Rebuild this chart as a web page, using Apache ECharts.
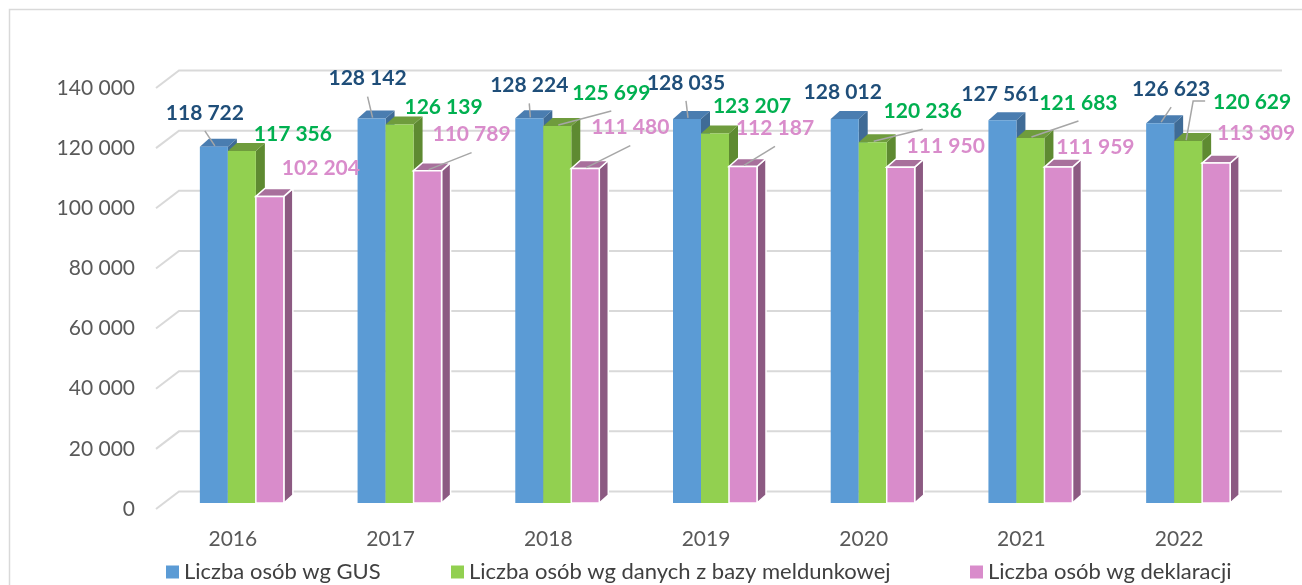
<!DOCTYPE html>
<html>
<head>
<meta charset="utf-8">
<script src="https://cdn.jsdelivr.net/npm/echarts@6/dist/echarts.min.js"></script>
<style>
  html, body { margin: 0; padding: 0; background: #fff; }
  #chart { width: 1302px; height: 585px; }
</style>
</head>
<body>
<div id="chart"></div>
<script>
// dane
const years = ['2016', '2017', '2018', '2019', '2020', '2021', '2022']
const gus = [118722, 128142, 128224, 128035, 128012, 127561, 126623]
const meld = [117356, 126139, 125699, 123207, 120236, 121683, 120629]
const dekl = [102204, 110789, 111480, 112187, 111950, 111959, 113309]
const yTicks = [0, 20000, 40000, 60000, 80000, 100000, 120000, 140000]

// ustawienia etykiet (przesunięcie od środka górnej krawędzi słupka)
const gusDx = [-9, -4, 0, -1, -2, -2, 11]
const gusDy = [-34, -40, -33, -36, -27, -26, -34]
const meldDx = [51, 44, 54, 37, 50, 48, 64]
const meldDy = [-17, -17, -33, -27, -31, -35, -39]
const deklDx = [51, 44, 45, 32, 45, 37, 40]
const deklDy = [-28, -36, -41, -38, -21, -20, -30]
// 0 - brak linii, 1 - prosta linia, 2 - linia łamana
const gusLead = [1, 1, 1, 1, 0, 0, 1]
const meldLead = [0, 0, 1, 0, 1, 1, 2]
const deklLead = [0, 1, 1, 1, 0, 0, 0]

const BAR_W = 28
const DX = 9
const DY = 8
const FONT = 'Lato'

function fmt(v) {
  return String(v).replace(/\B(?=(\d{3})+(?!\d))/g, ' ')
}

function bar3d(name, shift, values, c, labelColor, ldx, ldy, lead, white) {
  return {
    name: name,
    type: 'custom',
    xAxisIndex: 0,
    yAxisIndex: 0,
    itemStyle: { color: c.front },
    data: values.map((v, i) => [i, v]),
    renderItem: function (params, api) {
      const i = api.value(0)
      const top = api.coord([i, api.value(1)])
      const base = api.coord([i, 0])
      const x = top[0] + shift
      const y = top[1]
      const b = base[1]
      const r = x + BAR_W
      const stroke = white ? '#ffffff' : null
      const lw = white ? 1.5 : 0
      const cx = x + BAR_W / 2
      const lx = cx + ldx[i]
      const ly = y + ldy[i]
      const children = [
        { type: 'polygon', shape: { points: [[r, y], [r + DX, y - DY], [r + DX, b - DY], [r, b]] },
          style: { fill: c.side, stroke: stroke, lineWidth: lw } },
        { type: 'polygon', shape: { points: [[x, y], [x + DX, y - DY], [r + DX, y - DY], [r, y]] },
          style: { fill: c.top, stroke: stroke, lineWidth: lw } },
        { type: 'rect', shape: { x: x, y: y, width: BAR_W, height: b - y },
          style: { fill: c.front, stroke: stroke, lineWidth: lw } }
      ]
      if (lead[i] === 1) {
        children.push({ type: 'line', shape: { x1: lx, y1: ly + 18, x2: cx + 1, y2: y - 1 },
          style: { stroke: '#a6a6a6', lineWidth: 1.5 } })
      } else if (lead[i] === 2) {
        children.push({ type: 'polyline', shape: { points: [[lx - 47, ly - 1], [lx - 59, ly - 1], [cx - 2, y - 1]] },
          style: { stroke: '#a6a6a6', lineWidth: 1.5, fill: null } })
      }
      children.push({ type: 'text', z2: 10,
        style: { text: fmt(api.value(1)), x: lx, y: ly, align: 'center', verticalAlign: 'middle',
          font: 'bold 21px ' + FONT, fill: labelColor } })
      return { type: 'group', children: children }
    }
  }
}

const chart = echarts.init(document.getElementById('chart'))

const option = {
  animation: false,
  backgroundColor: '#ffffff',
  graphic: [{
    type: 'rect', left: 7, top: 7, silent: true,
    shape: { width: 1400, height: 700 },
    style: { fill: null, stroke: '#d9d9d9', lineWidth: 1.5 }
  }],
  legend: [
    { data: ['Liczba osób wg GUS'], left: 166, top: 561 },
    { data: ['Liczba osób wg danych z bazy meldunkowej'], left: 451, top: 561 },
    { data: ['Liczba osób wg deklaracji'], left: 970, top: 561 }
  ].map(l => Object.assign(l, {
    icon: 'rect', itemWidth: 13, itemHeight: 13, padding: 0,
    textStyle: { fontFamily: FONT, fontSize: 22, color: '#404040' }
  })),
  grid: [
    { left: 154, right: 44, top: 83, bottom: 82 },
    { left: 156, right: 43, top: 88, bottom: 76 }
  ],
  xAxis: [
    {
      type: 'category', gridIndex: 0, data: years,
      axisLine: { show: false }, axisTick: { show: false },
      axisLabel: { margin: 26, color: '#595959', fontFamily: FONT, fontSize: 21 }
    },
    { type: 'value', gridIndex: 1, min: 0, max: 1, show: false }
  ],
  yAxis: [
    { type: 'value', gridIndex: 0, min: 0, max: 140000, show: false },
    {
      type: 'value', gridIndex: 1, min: 0, max: 140000, interval: 20000,
      axisLine: { show: false }, axisTick: { show: false }, splitLine: { show: false },
      axisLabel: { margin: 21, color: '#595959', fontFamily: FONT, fontSize: 21, formatter: v => fmt(v) }
    }
  ],
  series: [
    {
      type: 'custom', xAxisIndex: 1, yAxisIndex: 1, silent: true, z: 1,
      data: yTicks.map(v => [0, v]),
      renderItem: function (params, api) {
        const p = api.coord([0, api.value(1)])
        const cs = params.coordSys
        return {
          type: 'polyline',
          shape: { points: [[cs.x, p[1]], [cs.x + 23, p[1] - 17.5], [cs.x + cs.width + 23, p[1] - 17.5]] },
          style: { stroke: '#d9d9d9', lineWidth: 2, fill: null }
        }
      }
    },
    bar3d('Liczba osób wg GUS', -33, gus,
      { front: '#5b9bd5', top: '#4a7db0', side: '#3f6b96' }, '#1f4e79', gusDx, gusDy, gusLead, false),
    bar3d('Liczba osób wg danych z bazy meldunkowej', -5, meld,
      { front: '#92d050', top: '#6f9c3d', side: '#5e8a31' }, '#00b050', meldDx, meldDy, meldLead, false),
    bar3d('Liczba osób wg deklaracji', 23, dekl,
      { front: '#d98ccb', top: '#a8709c', side: '#8c5a82' }, '#d98ccb', deklDx, deklDy, deklLead, true)
  ]
}

chart.setOption(option)
</script>
</body>
</html>
